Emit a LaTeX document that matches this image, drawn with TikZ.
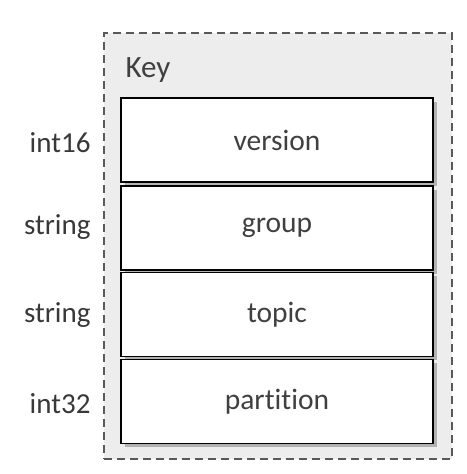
\documentclass[tikz,border=0pt]{standalone}
\usepackage{fontspec}
\setmainfont{Carlito}[Ligatures={NoCommon,NoRequired}]
\usetikzlibrary{shadows}
\begin{document}
\begin{tikzpicture}[x=1pt,y=-1pt,
  field/.style={draw=black,line width=1.2pt,fill=white,minimum width=312pt,minimum height=84pt,
    inner sep=0pt,font=\fontsize{29.5}{32}\selectfont,text=black!75,
    drop shadow={shadow xshift=3.5pt,shadow yshift=-3.5pt,fill=black!45,opacity=0.6}},
  typelab/.style={anchor=east,font=\fontsize{29}{32}\selectfont,text=black!78}]
\useasboundingbox (0,0) rectangle (466,474);
\node[draw=black!65,dashed,dash pattern=on 8pt off 5pt,line width=1.2pt,fill=black!7,
  minimum width=348pt,minimum height=426pt,inner sep=0pt] (outer) at (278,246) {};
\node[anchor=west,font=\fontsize{31}{34}\selectfont,text=black!75] (key) at (122,70) {Key};
\node[field] (version) at (277,140) {version};
\node[field] (group) at (277,228) {group};
\node[field] (topic) at (277,314.5) {topic};
\node[field] (partition) at (277,401.5) {partition};
\node[typelab] (t1) at (94,143) {int16};
\node[typelab] (t2) at (94,227) {string};
\node[typelab] (t3) at (94,315) {string};
\node[typelab] (t4) at (94,404) {int32};
\end{tikzpicture}
\end{document}
